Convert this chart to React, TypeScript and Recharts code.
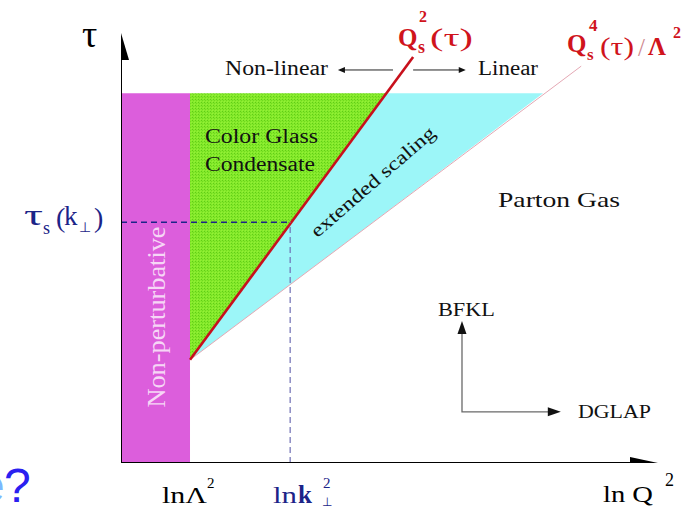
import React from 'react';
import { ComposedChart, XAxis, YAxis, Area, Line, Scatter } from 'recharts';

const W = 687;
const H = 512;

// Diagram units: x = ln Q^2 (0..100), y = tau (0..100)
const xDomain = [0, 100];
const yDomain = [0, 100];

// Regions (x, [low, high])
const nonPertRegion = [
  { x: 0, range: [0, 86] },
  { x: 12.85, range: [0, 86] },
];
const cgcRegion = [
  { x: 12.85, range: [24, 86] },
  { x: 49.4, range: [86, 86] },
];
const scalingRegion = [
  { x: 12.85, range: [24, 24] },
  { x: 49.4, range: [58.3, 86] },
  { x: 78.6, range: [86, 86] },
];

// Lines
const saturationLine = [
  { x: 12.85, y: 24 },
  { x: 54.4, y: 94.4 },
];
const scalingLine = [
  { x: 12.85, y: 24 },
  { x: 85.7, y: 92.3 },
];
const tauSLine = [
  { x: 0, y: 56 },
  { x: 31.5, y: 56 },
];
const kPerpLine = [
  { x: 31.5, y: 0 },
  { x: 31.5, y: 56 },
];
const yAxisLine = [
  { x: 0, y: 0 },
  { x: 0, y: 96 },
];
const xAxisLine = [
  { x: 0, y: 0 },
  { x: 97, y: 0 },
];
const evolutionLine = [
  { x: 63.5, y: 31 },
  { x: 63.5, y: 11.9 },
  { x: 80, y: 11.9 },
];
const nonLinearArrow = [
  { x: 41.2, y: 91.4 },
  { x: 50.65, y: 91.4 },
];
const linearArrow = [
  { x: 54.4, y: 91.4 },
  { x: 63.4, y: 91.4 },
];

// Arrow tips
const yAxisTip = [{ x: 0, y: 100 }];
const xAxisTip = [{ x: 100, y: 0 }];
const bfklTip = [{ x: 63.5, y: 33 }];
const dglapTip = [{ x: 81.9, y: 11.9 }];
const nonLinearTip = [{ x: 40.4, y: 91.4 }];
const linearTip = [{ x: 64.2, y: 91.4 }];

const arrowHead =
  (dir: 'up' | 'right' | 'left', len: number, half: number, fill: string) =>
  (props: any) => {
    const { cx, cy } = props;
    let pts = '';
    if (dir === 'up') pts = `${cx},${cy} ${cx - half},${cy + len} ${cx + half},${cy + len}`;
    if (dir === 'right') pts = `${cx},${cy} ${cx - len},${cy - half} ${cx - len},${cy + half}`;
    if (dir === 'left') pts = `${cx},${cy} ${cx + len},${cy - half} ${cx + len},${cy + half}`;
    return <polygon points={pts} fill={fill} />;
  };

const serif = '"Liberation Serif", "Times New Roman", serif';
const RED = '#d0141c';
const NAVY = '#1c2488';

export default function App() {
  return (
    <div style={{ position: 'absolute', left: 0, top: 0, width: W, height: H, background: '#fff' }}>
      <ComposedChart width={W} height={H} margin={{ top: 33, right: 29, bottom: 49, left: 121 }}>
        <XAxis type="number" dataKey="x" domain={xDomain} hide allowDataOverflow />
        <YAxis type="number" dataKey="y" domain={yDomain} hide allowDataOverflow />
        <Area data={nonPertRegion} dataKey="range" type="linear" fill="#dc5edc" fillOpacity={1} stroke="none" dot={false} activeDot={false} isAnimationActive={false} />
        <Area data={cgcRegion} dataKey="range" type="linear" fill="url(#cgcDots)" fillOpacity={1} stroke="none" dot={false} activeDot={false} isAnimationActive={false} />
        <Area data={scalingRegion} dataKey="range" type="linear" fill="#9cf6f8" fillOpacity={1} stroke="none" dot={false} activeDot={false} isAnimationActive={false} />
        <Line data={scalingLine} dataKey="y" type="linear" stroke="#e4a8b4" strokeWidth={1} dot={false} activeDot={false} isAnimationActive={false} />
        <Line data={saturationLine} dataKey="y" type="linear" stroke="#c8101c" strokeWidth={2.6} dot={false} activeDot={false} isAnimationActive={false} />
        <Line data={tauSLine} dataKey="y" type="linear" stroke={NAVY} strokeWidth={1.5} strokeDasharray="6 4" dot={false} activeDot={false} isAnimationActive={false} />
        <Line data={kPerpLine} dataKey="y" type="linear" stroke="#6e6eb4" strokeWidth={1.2} strokeDasharray="6 4" dot={false} activeDot={false} isAnimationActive={false} />
        <Line data={yAxisLine} dataKey="y" type="linear" stroke="#000" strokeWidth={2} dot={false} activeDot={false} isAnimationActive={false} />
        <Line data={xAxisLine} dataKey="y" type="linear" stroke="#000" strokeWidth={2} dot={false} activeDot={false} isAnimationActive={false} />
        <Line data={evolutionLine} dataKey="y" type="linear" stroke="#6a6a6a" strokeWidth={1.3} dot={false} activeDot={false} isAnimationActive={false} />
        <Line data={nonLinearArrow} dataKey="y" type="linear" stroke="#222" strokeWidth={1} dot={false} activeDot={false} isAnimationActive={false} />
        <Line data={linearArrow} dataKey="y" type="linear" stroke="#222" strokeWidth={1} dot={false} activeDot={false} isAnimationActive={false} />
        <Scatter data={yAxisTip} shape={arrowHead('up', 27, 8, '#000')} isAnimationActive={false} />
        <Scatter data={xAxisTip} shape={arrowHead('right', 28, 6, '#000')} isAnimationActive={false} />
        <Scatter data={bfklTip} shape={arrowHead('up', 13, 4.5, '#111')} isAnimationActive={false} />
        <Scatter data={dglapTip} shape={arrowHead('right', 13, 4.5, '#111')} isAnimationActive={false} />
        <Scatter data={nonLinearTip} shape={arrowHead('left', 7, 3, '#111')} isAnimationActive={false} />
        <Scatter data={linearTip} shape={arrowHead('right', 7, 3, '#111')} isAnimationActive={false} />
      </ComposedChart>
      <svg width={W} height={H} style={{ position: 'absolute', left: 0, top: 0, pointerEvents: 'none', overflow: 'hidden' }}>
        <defs>
          <pattern id="cgcDots" width="3" height="3" patternUnits="userSpaceOnUse">
            <rect width="3" height="3" fill="#84ea2c" />
            <rect x="0" y="0" width="1" height="1" fill="#62cc14" />
            <rect x="1" y="1" width="1" height="1" fill="#72da1c" />
            <rect x="2" y="2" width="1" height="1" fill="#96f034" />
          </pattern>
        </defs>
        <g fontFamily={serif}>
          {/* axis labels */}
          <text x={82} y={47} fontSize={38} fill="#000">τ</text>
          <text fill={NAVY}>
            <tspan x={24} y={225} fontSize={29} textLength={19} lengthAdjust="spacingAndGlyphs">τ</tspan>
            <tspan x={43} y={234} fontSize={18}>s</tspan>
            <tspan x={56} y={227} fontSize={28}>(</tspan>
            <tspan x={64} y={225} fontSize={27}>k</tspan>
            <tspan x={79} y={232} fontSize={14}>⊥</tspan>
            <tspan x={94} y={227} fontSize={28}>)</tspan>
          </text>
          <text fill="#000">
            <tspan x={162} y={503} fontSize={24} textLength={45} lengthAdjust="spacingAndGlyphs">lnΛ</tspan>
            <tspan x={207} y={488} fontSize={15}>2</tspan>
          </text>
          <text fill={NAVY}>
            <tspan x={273} y={503} fontSize={24} textLength={24} lengthAdjust="spacingAndGlyphs">ln</tspan>
            <tspan x={298} y={503} fontSize={25} fontWeight="bold">k</tspan>
            <tspan x={323} y={488} fontSize={15}>2</tspan>
          </text>
          <text x={322} y={506} fontSize={12} fill={NAVY}>⊥</text>
          <text fill="#000">
            <tspan x={603} y={502} fontSize={24} textLength={50} lengthAdjust="spacingAndGlyphs">ln Q</tspan>
            <tspan x={665} y={486} fontSize={18}>2</tspan>
          </text>

          {/* top labels */}
          <text x={225} y={75} fontSize={20} textLength={103} lengthAdjust="spacingAndGlyphs" fill="#111">Non-linear</text>
          <text x={478} y={75} fontSize={20} textLength={60} lengthAdjust="spacingAndGlyphs" fill="#111">Linear</text>
          <text fill={RED} fontWeight="bold">
            <tspan x={398} y={46} fontSize={25}>Q</tspan>
            <tspan x={418} y={53} fontSize={18}>s</tspan>
            <tspan x={430} y={46} fontSize={26} fontWeight="normal" textLength={43} lengthAdjust="spacingAndGlyphs">(τ)</tspan>
          </text>
          <text x={419} y={22} fontSize={16} fill={RED} fontWeight="bold">2</text>
          <text fill={RED} fontWeight="bold">
            <tspan x={567} y={52} fontSize={25}>Q</tspan>
            <tspan x={587} y={60} fontSize={17}>s</tspan>
            <tspan x={600} y={55} fontSize={25} fontWeight="normal" textLength={34} lengthAdjust="spacingAndGlyphs">(τ)</tspan>
            <tspan x={638} y={56} fontSize={25} fontWeight="normal" fill="#cf8a90">/</tspan>
            <tspan x={648} y={55} fontSize={25}>Λ</tspan>
          </text>
          <text x={589} y={31} fontSize={17} fill={RED} fontWeight="bold">4</text>
          <text x={673} y={38} fontSize={16} fill={RED} fontWeight="bold">2</text>

          {/* region labels */}
          <text x={205} y={143} fontSize={20} textLength={113} lengthAdjust="spacingAndGlyphs" fill="#111">Color Glass</text>
          <text x={205} y={171} fontSize={20} textLength={110} lengthAdjust="spacingAndGlyphs" fill="#111">Condensate</text>
          <g transform="translate(373,182) rotate(-41)">
            <text x={0} y={6} fontSize={19} textAnchor="middle" textLength={158} lengthAdjust="spacingAndGlyphs" fill="#111">extended scaling</text>
          </g>
          <text x={498} y={207} fontSize={22} textLength={122} lengthAdjust="spacingAndGlyphs" fill="#111">Parton Gas</text>
          <g transform="translate(165,317) rotate(-90)">
            <text x={0} y={0} fontSize={25} textAnchor="middle" textLength={181} lengthAdjust="spacingAndGlyphs" fill="#f6d6f6">Non-perturbative</text>
          </g>
          <text x={438} y={316} fontSize={18} textLength={57} lengthAdjust="spacingAndGlyphs" fill="#111">BFKL</text>
          <text x={578} y={418} fontSize={18} textLength={73} lengthAdjust="spacingAndGlyphs" fill="#111">DGLAP</text>
        </g>
        <g fontFamily='"Liberation Sans", Arial, sans-serif'>
          <text x={-22} y={502} fontSize={48} fill="#7ab8ff">e</text>
          <text x={4} y={502} fontSize={48} fill="#2a20f0">?</text>
        </g>
      </svg>
    </div>
  );
}
